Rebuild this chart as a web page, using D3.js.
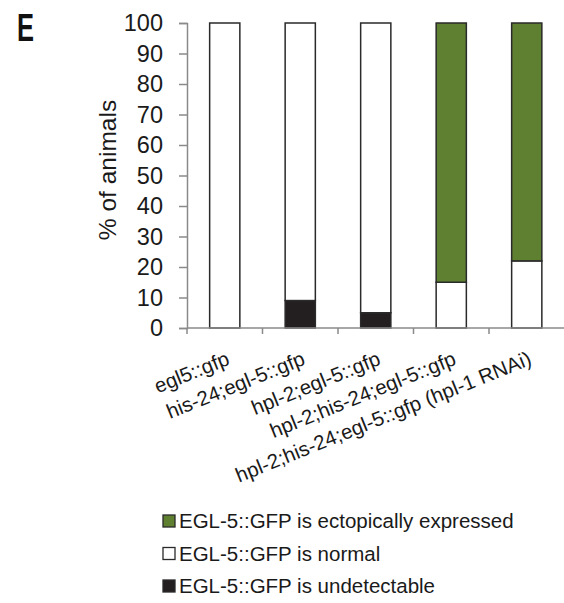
<!DOCTYPE html>
<html><head><meta charset="utf-8">
<script src="https://d3js.org/d3.v7.min.js"></script>
<style>body{margin:0;background:#fff;} svg{display:block;font-family:"Liberation Sans",Arial,sans-serif;}</style>
</head><body>
<svg id="c" width="564" height="603"></svg>
<script>
const categories = ["egl5::gfp","his-24;egl-5::gfp","hpl-2;egl-5::gfp","hpl-2;his-24;egl-5::gfp","hpl-2;his-24;egl-5::gfp (hpl-1 RNAi)"];
const undetectable = [0,9,5,0,0];
const normal = [100,91,95,15,22];
const ectopic = [0,0,0,85,78];
const yTicks = [0,10,20,30,40,50,60,70,80,90,100];
const seriesNames = ["EGL-5::GFP is ectopically expressed","EGL-5::GFP is normal","EGL-5::GFP is undetectable"];
const colors = {ectopic:"#5f7f31", normal:"#ffffff", undetectable:"#231f20"};

const svg = d3.select("#c");
const x = d3.scaleBand().domain(categories).range([187,564.5]).padding(0);
const y = d3.scaleLinear().domain([0,100]).range([328,23]);

const rows = categories.map((c,i)=>({cat:c, undetectable:undetectable[i], normal:normal[i], ectopic:ectopic[i]}));
const stack = d3.stack().keys(["undetectable","normal","ectopic"])(rows);

const bw = x.bandwidth()*0.4;
const g = svg.append("g");
stack.forEach(s=>{
  g.selectAll(null).data(s.filter(d=>d[1]-d[0]>0)).enter().append("rect")
    .attr("x", d=>x(d.data.cat)+x.bandwidth()/2-bw/2)
    .attr("width", bw)
    .attr("y", d=>y(d[1]))
    .attr("height", d=>y(d[0])-y(d[1]))
    .attr("fill", colors[s.key])
    .attr("stroke", "#2a2a2a")
    .attr("stroke-width", 1.5);
});

// Y axis
const ya = svg.append("g").attr("transform","translate(187,0)")
  .call(d3.axisLeft(y).tickValues(yTicks).tickSize(8).tickPadding(16));
ya.select(".domain").attr("stroke","#8a8a8a").attr("stroke-width",1.5);
ya.selectAll(".tick line").attr("stroke","#8a8a8a").attr("stroke-width",1.5);
ya.selectAll(".tick text").attr("font-size",23.5).attr("fill","#1a1a1a").attr("font-family","Liberation Sans, Arial, sans-serif");

// X axis line with boundary ticks
const xa = svg.append("g");
xa.append("line").attr("x1",187).attr("x2",564).attr("y1",y(0)).attr("y2",y(0)).attr("stroke","#8a8a8a").attr("stroke-width",1.5);
categories.forEach(c=>{
  xa.append("line").attr("x1",x(c)).attr("x2",x(c)).attr("y1",y(0)).attr("y2",y(0)+6).attr("stroke","#8a8a8a").attr("stroke-width",1.5);
});
categories.forEach(c=>{
  const cx = x(c)+x.bandwidth()/2+6;
  svg.append("text").attr("transform",`translate(${cx},${y(0)+36}) rotate(-22)`)
    .attr("text-anchor","end").attr("font-size",20.5).attr("fill","#1a1a1a").text(c);
});

// Y title
svg.append("text").attr("transform","translate(116,170) rotate(-90)").attr("text-anchor","middle")
  .attr("font-size",24.5).attr("fill","#1a1a1a").text("% of animals");

// Panel letter
svg.append("text").attr("x",17).attr("y",41).attr("font-size",39).attr("font-weight","bold")
  .attr("textLength",17).attr("lengthAdjust","spacingAndGlyphs").attr("fill","#111").text("E");

// Legend
const keys = ["ectopic","normal","undetectable"];
const lg = svg.append("g");
keys.forEach((k,i)=>{
  const yy = 521 + i*32.5;
  lg.append("rect").attr("x",163).attr("y",yy-6).attr("width",12).attr("height",12)
    .attr("fill",colors[k]).attr("stroke","#2a2a2a").attr("stroke-width",1.3);
  lg.append("text").attr("x",179).attr("y",yy+7.3).attr("font-size",20.5).attr("fill","#1a1a1a").text(seriesNames[i]);
});
</script>
</body></html>
